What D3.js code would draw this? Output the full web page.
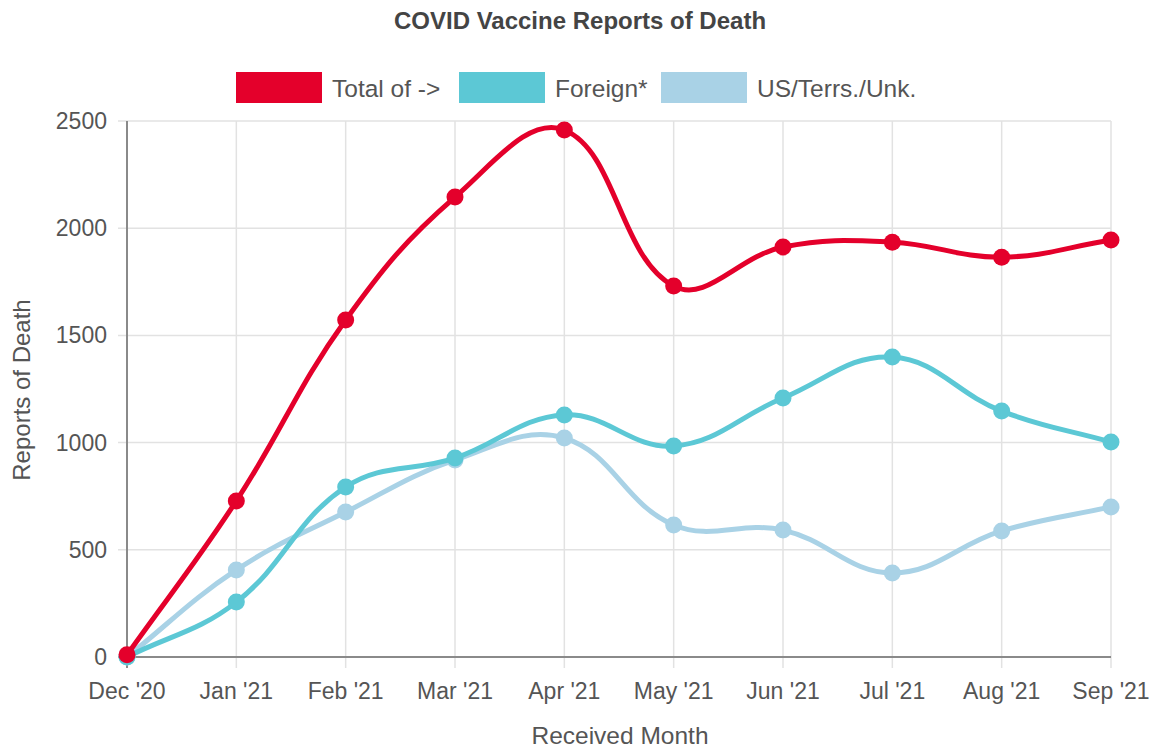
<!DOCTYPE html>
<html>
<head>
<meta charset="utf-8">
<script src="https://cdn.jsdelivr.net/npm/d3@7"></script>
<style>
  body { margin: 0; background: #fff; }
  svg text { font-family: "Liberation Sans", Arial, sans-serif; fill: #555; }
</style>
</head>
<body>
<script>
// chart data
var months = ["Dec '20", "Jan '21", "Feb '21", "Mar '21", "Apr '21", "May '21", "Jun '21", "Jul '21", "Aug '21", "Sep '21"];
var totalDeaths = [10, 728, 1572, 2145, 2458, 1730, 1912, 1935, 1865, 1945];
var foreignDeaths = [0, 256, 793, 928, 1129, 984, 1208, 1399, 1147, 1003];
var usDeaths = [0, 406, 676, 919, 1021, 616, 592, 392, 588, 700];
var yTicks = [0, 500, 1000, 1500, 2000, 2500];
var seriesNames = ["Total of ->", "Foreign*", "US/Terrs./Unk."];
var seriesColors = ["#e4002b", "#5cc8d5", "#a9d2e6"];

var width = 1158, height = 748;
var plotLeft = 127, plotRight = 1111, plotTop = 121, plotBottom = 657;

var svg = d3.select("body").append("svg")
    .attr("width", width)
    .attr("height", height);

var x = d3.scalePoint().domain(months).range([plotLeft, plotRight]);
var y = d3.scaleLinear().domain([0, 2500]).range([plotBottom, plotTop]);

// gridlines
svg.append("g").selectAll("line").data(yTicks).enter().append("line")
    .attr("x1", plotLeft - 9).attr("x2", plotRight)
    .attr("y1", function (d) { return y(d); }).attr("y2", function (d) { return y(d); })
    .attr("stroke", "#e2e2e2").attr("stroke-width", 1.5);
svg.append("g").selectAll("line").data(months).enter().append("line")
    .attr("x1", function (d) { return x(d); }).attr("x2", function (d) { return x(d); })
    .attr("y1", plotTop).attr("y2", plotBottom + 11)
    .attr("stroke", "#e2e2e2").attr("stroke-width", 1.5);

// axis lines
svg.append("line").attr("x1", plotLeft).attr("x2", plotLeft).attr("y1", plotTop).attr("y2", plotBottom + 11)
    .attr("stroke", "#8a8a8a").attr("stroke-width", 2);
svg.append("line").attr("x1", plotLeft - 9).attr("x2", plotRight).attr("y1", plotBottom).attr("y2", plotBottom)
    .attr("stroke", "#8a8a8a").attr("stroke-width", 2);

// tick labels
svg.append("g").selectAll("text").data(yTicks).enter().append("text")
    .attr("x", plotLeft - 20).attr("y", function (d) { return y(d); })
    .attr("dy", "0.35em").attr("text-anchor", "end")
    .style("font-size", "23px")
    .text(function (d) { return d; });
svg.append("g").selectAll("text").data(months).enter().append("text")
    .attr("x", function (d) { return x(d); }).attr("y", plotBottom + 42)
    .attr("text-anchor", "middle")
    .style("font-size", "23px")
    .text(function (d) { return d; });

// axis titles
svg.append("text").attr("x", 620).attr("y", 744).attr("text-anchor", "middle")
    .style("font-size", "24.5px").text("Received Month");
svg.append("text").attr("transform", "translate(30,390) rotate(-90)").attr("text-anchor", "middle")
    .style("font-size", "24px").text("Reports of Death");

// title
svg.append("text").attr("x", 580).attr("y", 29).attr("text-anchor", "middle")
    .style("font-size", "24px").style("font-weight", "bold").style("fill", "#444")
    .text("COVID Vaccine Reports of Death");

// legend
var legendX = [236, 459, 661];
var legend = svg.append("g").selectAll("g").data(seriesNames).enter().append("g")
    .attr("transform", function (d, i) { return "translate(" + legendX[i] + ",72)"; });
legend.append("rect").attr("width", 86).attr("height", 31)
    .attr("fill", function (d, i) { return seriesColors[i]; });
legend.append("text").attr("x", 96).attr("y", 16).attr("dy", "0.35em")
    .style("font-size", "24.5px").text(function (d) { return d; });

// chart.js style spline
function splinePath(values) {
    var pts = values.map(function (v, i) { return { x: x(months[i]), y: y(v) }; });
    var t = 0.4;
    pts.forEach(function (cur, i) {
        var prev = pts[i - 1] || cur, next = pts[i + 1] || cur;
        var d01 = Math.hypot(cur.x - prev.x, cur.y - prev.y);
        var d12 = Math.hypot(next.x - cur.x, next.y - cur.y);
        var s01 = d01 / (d01 + d12), s12 = d12 / (d01 + d12);
        if (isNaN(s01)) s01 = 0;
        if (isNaN(s12)) s12 = 0;
        var fa = t * s01, fb = t * s12;
        cur.cp1x = cur.x - fa * (next.x - prev.x);
        cur.cp1y = cur.y - fa * (next.y - prev.y);
        cur.cp2x = cur.x + fb * (next.x - prev.x);
        cur.cp2y = cur.y + fb * (next.y - prev.y);
    });
    var p = d3.path();
    p.moveTo(pts[0].x, pts[0].y);
    for (var i = 1; i < pts.length; i++) {
        p.bezierCurveTo(pts[i - 1].cp2x, pts[i - 1].cp2y, pts[i].cp1x, pts[i].cp1y, pts[i].x, pts[i].y);
    }
    return p.toString();
}

var allSeries = [usDeaths, foreignDeaths, totalDeaths];
var order = [2, 1, 0];
allSeries.forEach(function (vals, k) {
    var color = seriesColors[order[k]];
    svg.append("path").attr("d", splinePath(vals))
        .attr("fill", "none").attr("stroke", color).attr("stroke-width", 5);
    svg.append("g").selectAll("circle").data(vals).enter().append("circle")
        .attr("cx", function (d, i) { return x(months[i]); })
        .attr("cy", function (d) { return y(d); })
        .attr("r", 8.5)
        .attr("fill", color);
});
</script>
</body>
</html>
